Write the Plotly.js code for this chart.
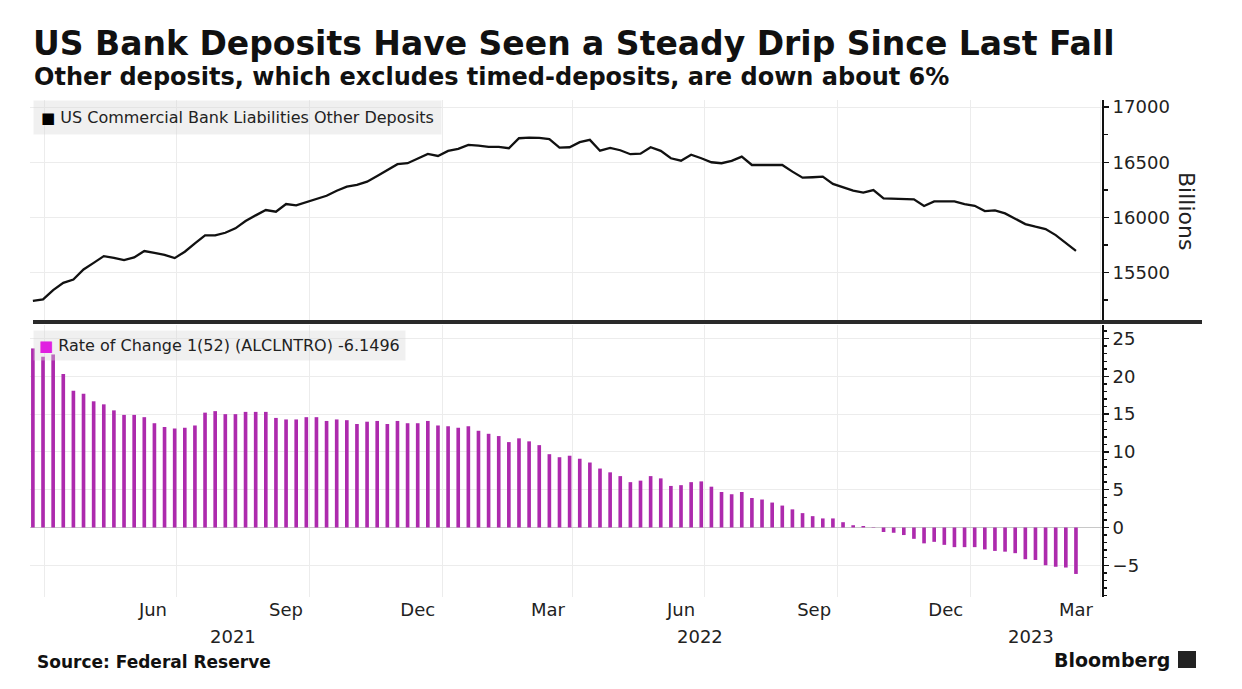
<!DOCTYPE html>
<html>
<head>
<meta charset="utf-8">
<script src="https://cdn.plot.ly/plotly-3.0.1.min.js"></script>
<style>html,body{margin:0;padding:0;background:#fff;}#chart{width:1242px;height:689px;}</style>
</head>
<body>
<div id="chart"></div>
<script>
// Weekly observations (Wednesdays), 2021-03-24 .. 2023-03-15
const startDate = '2021-03-24';
const weekCount = 104;

// US Commercial Bank Liabilities Other Deposits (billions USD)
const deposits = [
  15242, 15255, 15339, 15406, 15436, 15527, 15587, 15648, 15633, 15612,
  15636, 15694, 15678, 15660, 15630, 15688, 15764, 15836, 15836, 15860,
  15900, 15966, 16018, 16066, 16051, 16121, 16109, 16136, 16166, 16196,
  16242, 16278, 16294, 16324, 16375, 16430, 16482, 16491, 16536, 16575,
  16557, 16603, 16621, 16657, 16651, 16639, 16639, 16627, 16718, 16724,
  16721, 16709, 16633, 16636, 16682, 16703, 16605, 16630, 16609, 16573,
  16578, 16636, 16603, 16536, 16514, 16569, 16536, 16500, 16491, 16512,
  16551, 16475, 16475, 16475, 16475, 16415, 16360, 16364, 16369, 16303,
  16269, 16242, 16224, 16248, 16173, 16169, 16164, 16164, 16103, 16145,
  16145, 16145, 16121, 16105, 16057, 16064, 16036, 15991, 15939, 15915,
  15894, 15839, 15764, 15696
];

// Rate of Change 1(52), percent
const rateOfChange = [
  23.7, 22.6, 22.9, 20.3, 18.1, 17.7, 16.7, 16.3, 15.5, 14.9,
  14.9, 14.6, 13.8, 13.3, 13.1, 13.2, 13.5, 15.2, 15.4, 15.0,
  15.0, 15.3, 15.3, 15.3, 14.5, 14.3, 14.3, 14.6, 14.6, 14.1,
  14.3, 14.2, 13.7, 14.0, 14.1, 13.7, 14.1, 13.8, 13.8, 14.1,
  13.5, 13.4, 13.2, 13.4, 12.8, 12.4, 12.1, 11.3, 11.8, 11.4,
  10.9, 9.7, 9.3, 9.5, 9.1, 8.6, 7.8, 7.3, 6.8, 6.0,
  6.2, 6.8, 6.5, 5.5, 5.6, 6.0, 6.1, 5.4, 4.7, 4.4,
  4.7, 3.9, 3.7, 3.3, 2.9, 2.4, 1.9, 1.5, 1.2, 1.2,
  0.7, 0.3, 0.2, 0.05, -0.6, -0.7, -1.0, -1.5, -2.1, -1.9,
  -2.3, -2.6, -2.6, -2.6, -2.9, -3.1, -3.2, -3.4, -4.2, -4.3,
  -5.0, -5.2, -5.3, -6.1496
];

// Month tick labels (placed mid-month) and year labels
const monthTickDates = ['2021-06-15','2021-09-15','2021-12-15','2022-03-15','2022-06-15','2022-09-15','2022-12-15','2023-03-15'];
const monthTickText  = ['Jun','Sep','Dec','Mar','Jun','Sep','Dec','Mar'];
const yearLabelDates = ['2021-08-09','2022-06-28','2023-02-12'];
const yearLabelText  = ['2021','2022','2023'];

const titleText = 'US Bank Deposits Have Seen a Steady Drip Since Last Fall';
const subtitleText = 'Other deposits, which excludes timed-deposits, are down about 6%';
const legend1Text = 'US Commercial Bank Liabilities Other Deposits';
const legend2Text = 'Rate of Change 1(52) (ALCLNTRO) -6.1496';

// build weekly dates
const dates = [];
{
  const d0 = new Date(startDate + 'T00:00:00Z');
  for (let i = 0; i < weekCount; i++) {
    const d = new Date(d0.getTime() + i * 7 * 86400000);
    dates.push(d.toISOString().slice(0, 10));
  }
}

const FONT = 'DejaVu Sans';
const TXT = '#222222';
const GRID = '#ececec';
const xRange = ['2021-03-22', '2023-04-02'];

const traces = [
  {
    type: 'scatter', mode: 'lines', x: dates, y: deposits,
    xaxis: 'x', yaxis: 'y',
    line: {color: '#111111', width: 2.3},
    hoverinfo: 'skip'
  },
  {
    type: 'bar', x: dates, y: rateOfChange,
    xaxis: 'x2', yaxis: 'y2',
    marker: {color: '#ad2aad', line: {width: 0}},
    hoverinfo: 'skip'
  }
];

const ax = {
  type: 'date', range: xRange, fixedrange: true
};

const layout = {
  width: 1242, height: 689,
  margin: {l: 30, r: 140, t: 100, b: 92},
  paper_bgcolor: '#ffffff', plot_bgcolor: '#ffffff',
  showlegend: false, hovermode: false, bargap: 0.64,
  font: {family: FONT, color: TXT},
  title: {
    text: '<b>' + titleText + '</b>',
    xref: 'container', yref: 'container',
    x: 33 / 1242, xanchor: 'left',
    y: 1 - 43 / 689, yanchor: 'middle',
    font: {family: FONT, size: 33, color: '#111111'}
  },
  xaxis: Object.assign({}, ax, {
    domain: [0, 1], anchor: 'y',
    showticklabels: false, ticks: '',
    tick0: '2021-01-01', dtick: 'M3',
    showgrid: true, gridcolor: GRID, gridwidth: 1,
    zeroline: false, showline: false
  }),
  xaxis2: Object.assign({}, ax, {
    domain: [0, 1], anchor: 'y2', matches: 'x',
    tickmode: 'array', tickvals: monthTickDates, ticktext: monthTickText,
    ticks: '', showgrid: false,
    minor: {tick0: '2021-01-01', dtick: 'M3', showgrid: true, gridcolor: GRID, gridwidth: 1, ticks: ''},
    tickfont: {family: FONT, size: 18, color: TXT},
    zeroline: false, showline: false
  }),
  yaxis: {
    domain: [0.5533, 1], anchor: 'x', side: 'right',
    range: [15050, 17065], tick0: 0, dtick: 500, tickformat: 'd',
    showgrid: true, gridcolor: GRID, gridwidth: 1, zeroline: false,
    showline: true, linecolor: '#111111', linewidth: 2,
    ticks: 'outside', ticklen: 5, tickwidth: 1.5, tickcolor: '#111111',
    minor: {dtick: 250, tick0: 0, ticks: 'outside', ticklen: 4, tickcolor: '#111111', showgrid: false},
    tickfont: {family: FONT, size: 18, color: TXT},
    fixedrange: true
  },
  yaxis2: {
    domain: [0, 0.5473], anchor: 'x2', side: 'right',
    range: [-9.2, 26.8], tick0: 0, dtick: 5,
    showgrid: true, gridcolor: GRID, gridwidth: 1,
    zeroline: true, zerolinecolor: '#c8c8c8', zerolinewidth: 1,
    showline: true, linecolor: '#111111', linewidth: 2,
    ticks: 'outside', ticklen: 5, tickwidth: 1.5, tickcolor: '#111111',
    minor: {dtick: 1, tick0: 0, ticks: 'outside', ticklen: 3, tickcolor: '#111111', showgrid: false},
    tickfont: {family: FONT, size: 18, color: TXT},
    fixedrange: true
  },
  shapes: [
    {type: 'line', xref: 'paper', yref: 'paper',
     x0: (33 - 30) / 1072, x1: (1202 - 30) / 1072, y0: 0.5533, y1: 0.5533,
     line: {color: '#2a2a2a', width: 4}},
    {type: 'rect', xref: 'paper', yref: 'paper',
     x0: (1178 - 30) / 1072, x1: (1196 - 30) / 1072,
     y0: (597 - 668) / 497, y1: (597 - 651) / 497,
     fillcolor: '#222222', line: {width: 0}}
  ],
  annotations: [
    {text: '<b>' + subtitleText + '</b>', xref: 'paper', yref: 'paper',
     x: (32 - 30) / 1072, xanchor: 'left', y: (597 - 77) / 497, yanchor: 'middle',
     showarrow: false, font: {family: FONT, size: 24, color: '#111111'}},
    {text: '<span style="font-size:15px;color:#000000">■</span> ' + legend1Text,
     xref: 'paper', yref: 'paper', x: (33 - 30) / 1072, xanchor: 'left',
     y: 1.0, yanchor: 'top', showarrow: false, bgcolor: 'rgba(215,215,215,0.38)', borderpad: 7,
     font: {family: FONT, size: 16, color: TXT}},
    {text: '<span style="font-size:15px;color:#e020e0">■</span> ' + legend2Text,
     xref: 'paper', yref: 'paper', x: (33 - 30) / 1072, xanchor: 'left',
     y: (597 - 330) / 497, yanchor: 'top', showarrow: false, bgcolor: 'rgba(215,215,215,0.38)', borderpad: 5,
     font: {family: FONT, size: 16, color: TXT}},
    {text: 'Billions', xref: 'paper', yref: 'paper',
     x: (1187 - 30) / 1072, y: (597 - 211) / 497, xanchor: 'center', yanchor: 'middle',
     textangle: 90, showarrow: false, font: {family: FONT, size: 22, color: TXT}},
    {text: '<b>Source: Federal Reserve</b>', xref: 'paper', yref: 'paper',
     x: (35 - 30) / 1072, xanchor: 'left', y: (597 - 662) / 497, yanchor: 'middle',
     showarrow: false, font: {family: FONT, size: 17, color: '#111111'}},
    {text: '<b>Bloomberg</b>', xref: 'paper', yref: 'paper',
     x: (1172 - 30) / 1072, xanchor: 'right', y: (597 - 660) / 497, yanchor: 'middle',
     showarrow: false, font: {family: FONT, size: 19, color: '#111111'}}
  ]
};

yearLabelDates.forEach((d, i) => {
  layout.annotations.push({
    text: yearLabelText[i], xref: 'x2', yref: 'paper',
    x: d, xanchor: 'center', y: (597 - 636) / 497, yanchor: 'middle',
    showarrow: false, font: {family: FONT, size: 18, color: TXT}
  });
});

Plotly.newPlot('chart', traces, layout, {staticPlot: true, displayModeBar: false});
</script>
</body>
</html>
